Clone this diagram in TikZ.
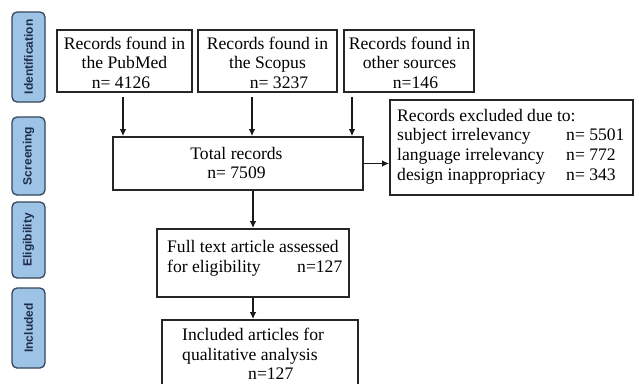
\documentclass[tikz,border=0pt]{standalone}
\usepackage{fontspec}
\setmainfont{Liberation Serif}
\newfontfamily\labfont{Liberation Sans}
\usetikzlibrary{arrows.meta}
\definecolor{sidefill}{HTML}{9DC3E6}
\definecolor{sidedraw}{HTML}{34465E}
\definecolor{sidetext}{HTML}{1F2D4A}
\begin{document}
\begin{tikzpicture}[x=1pt,y=-1pt,
  box/.style={draw=black!85, line width=1.6pt, inner sep=0pt},
  txt/.style={inner sep=0pt, font=\fontsize{17.6}{19.6}\selectfont, align=center},
  side/.style={draw=sidedraw, fill=sidefill, line width=1.3pt, rounded corners=5pt, minimum width=33pt, inner sep=0pt},
  sidetxt/.style={rotate=90, text=sidetext, font=\labfont\bfseries\fontsize{12}{14}\selectfont, inner sep=0pt},
  arr/.style={draw=black!90, line width=1.6pt, -{Latex[length=7pt,width=6.5pt]}}]
\useasboundingbox (0,0) rectangle (639,383);
\clip (0,0) rectangle (639,383);
\fill[white] (0,0) rectangle (639,383);
% side labels
\node[side, minimum height=90pt] (sid) at (28.5,57) {};
\node[sidetxt] (sidt) at (sid.center) {Identification};
\node[side, minimum height=78pt] (sscr) at (28.5,156) {};
\node[sidetxt] (sscrt) at (sscr.center) {Screening};
\node[side, minimum height=76pt] (seli) at (28.5,240) {};
\node[sidetxt] (selit) at (seli.center) {Eligibility};
\node[side, minimum height=80pt] (sinc) at (28.5,328) {};
\node[sidetxt] (sinct) at (sinc.center) {Included};
% boxes
\node[box, minimum width=135pt, minimum height=62pt] (pub) at (124.5,61) {};
\node[txt] (pubt) at (124.5,62.5) {Records found in\\the PubMed\\\hspace*{-7pt}n= 4126};
\node[box, minimum width=139pt, minimum height=62pt] (sco) at (267.5,61) {};
\node[txt] (scot) at (267.5,62.5) {Records found in\\the Scopus\\\hspace*{23pt}n= 3237};
\node[box, minimum width=130pt, minimum height=62pt] (oth) at (409,61) {};
\node[txt] (otht) at (409.5,62.5) {Records found in\\other sources\\\hspace*{12pt}n=146};
\node[box, minimum width=250pt, minimum height=53pt] (tot) at (238,163.5) {};
\node[txt] (tott) at (236.5,163) {Total records\\n= 7509};
\node[box, minimum width=243pt, minimum height=95pt] (exc) at (511.5,147.5) {};
\node[txt, align=left, anchor=west] (exct) at (397,146.5) {Records excluded due to:\\
\makebox[169pt][l]{subject irrelevancy}n= 5501\\
\makebox[169pt][l]{language irrelevancy}n= 772\\
\makebox[169pt][l]{design inappropriacy}n= 343};
\node[box, minimum width=192pt, minimum height=68pt] (full) at (253,263) {};
\node[txt, align=left, anchor=west] (fullt) at (167,258) {Full text article assessed\\
\makebox[130pt][l]{for eligibility}n=127};
\node[box, minimum width=196pt, minimum height=76pt] (inc) at (260,358) {};
\node[txt, align=left, anchor=west] (inct) at (182,354) {Included articles for\\qualitative analysis\\\hspace*{66pt}n=127};
% connectors
\coordinate (s1) at (123,97);
\coordinate (s2) at (252,97);
\coordinate (s3) at (352,97);
\draw[arr] (s1) -- (s1 |- tot.north);
\draw[arr] (s2) -- (s2 |- tot.north);
\draw[arr] (s3) -- (s3 |- tot.north);
\draw[arr] (tot.east) -- (tot.east -| exc.west);
\coordinate (s4) at (253,0);
\draw[arr] (s4 |- tot.south) -- (s4 |- full.north);
\draw[arr] (s4 |- full.south) -- (s4 |- inc.north);
\end{tikzpicture}
\end{document}
